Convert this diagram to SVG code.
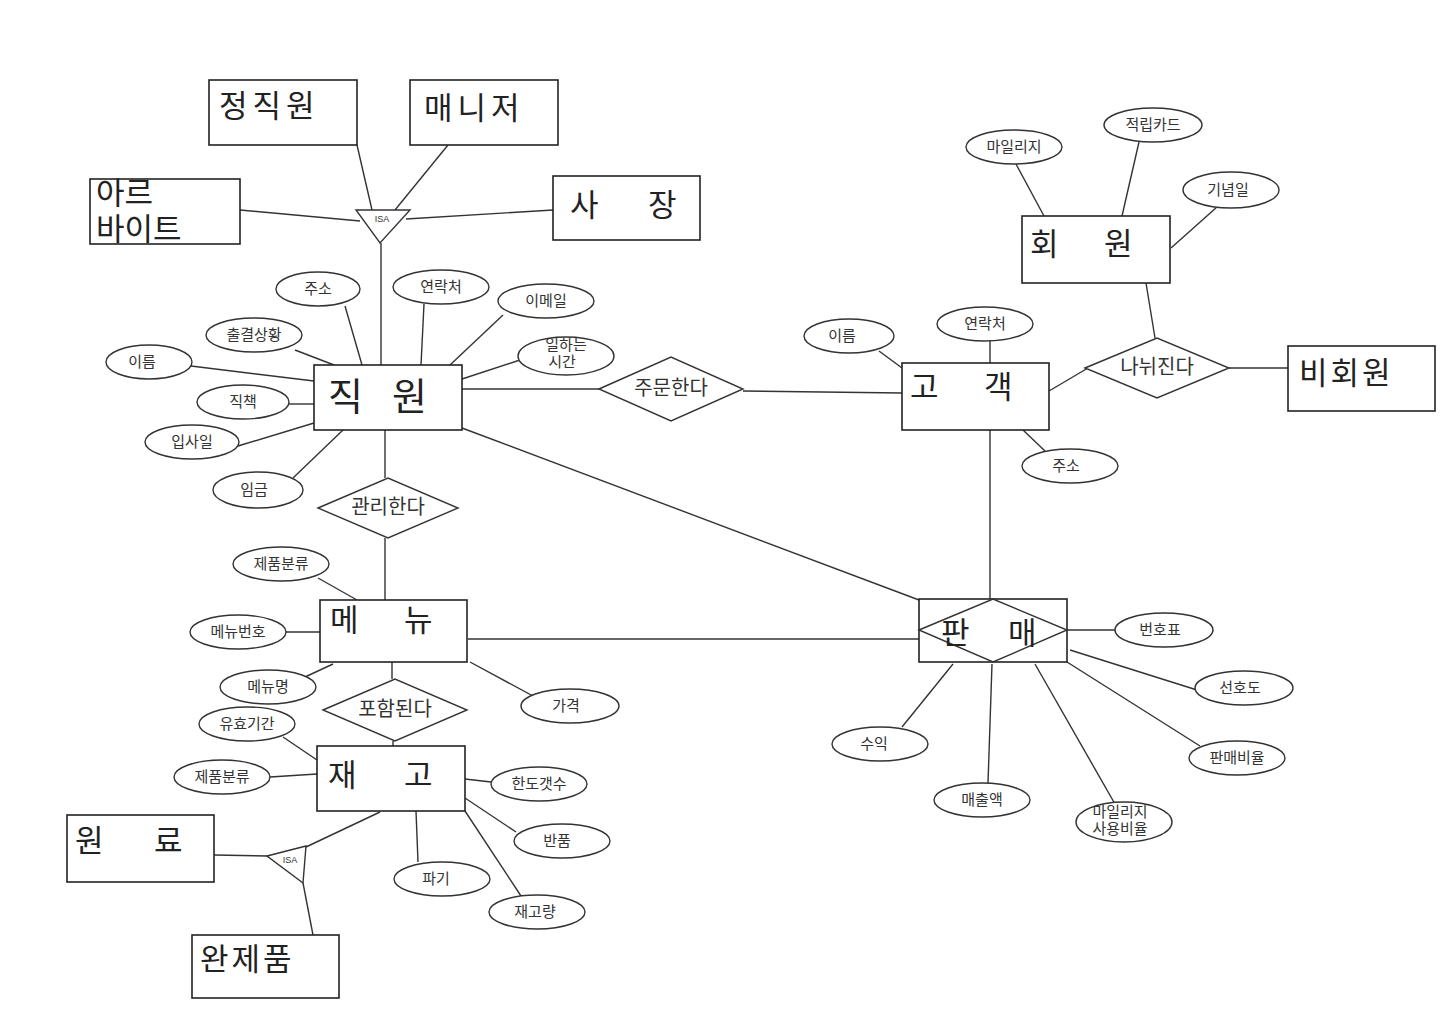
<svg xmlns="http://www.w3.org/2000/svg" width="1455" height="1024" viewBox="0 0 1455 1024">
<style>
.bg{fill:#fff}
.e{fill:#fff;stroke:#222;stroke-width:1.6}
.a{fill:#fff;stroke:#333;stroke-width:1.4}
.r{fill:#fff;stroke:#333;stroke-width:1.4}
.c line{stroke:#333;stroke-width:1.4}
.et{font-family:"Liberation Sans","Noto Sans CJK KR",sans-serif;font-size:31px;fill:#222}
.big{font-size:38px}
.at{font-family:"Liberation Sans","Noto Sans CJK KR",sans-serif;font-size:15px;fill:#333;text-anchor:middle}
.rt{font-family:"Liberation Sans","Noto Sans CJK KR",sans-serif;font-size:20px;fill:#333;text-anchor:middle}
.isa{font-family:"Liberation Sans",sans-serif;font-size:9px;fill:#333;text-anchor:middle}
</style>
<rect class="bg" width="1455" height="1024"/>
<g id="connectors" class="c">
<line x1="357" y1="145" x2="372" y2="210"/>
<line x1="448" y1="145" x2="395" y2="210"/>
<line x1="240" y1="210" x2="360" y2="221"/>
<line x1="553" y1="210" x2="406" y2="219"/>
<line x1="381" y1="243" x2="381" y2="365"/>
<line x1="362" y1="365" x2="345" y2="306"/>
<line x1="421" y1="365" x2="424" y2="304"/>
<line x1="450" y1="365" x2="503" y2="315"/>
<line x1="462" y1="379" x2="520" y2="360"/>
<line x1="334" y1="365" x2="295" y2="350"/>
<line x1="314" y1="381" x2="191" y2="366"/>
<line x1="314" y1="404" x2="289" y2="404"/>
<line x1="314" y1="423" x2="238" y2="446"/>
<line x1="343" y1="430" x2="293" y2="478"/>
<line x1="385" y1="430" x2="385" y2="478"/>
<line x1="385" y1="538" x2="385" y2="600"/>
<line x1="462" y1="389" x2="599" y2="389"/>
<line x1="743" y1="391" x2="902" y2="393"/>
<line x1="462" y1="428" x2="919" y2="600"/>
<line x1="990" y1="430" x2="990" y2="599"/>
<line x1="468" y1="639" x2="919" y2="639"/>
<line x1="902" y1="368" x2="879" y2="351"/>
<line x1="990" y1="363" x2="990" y2="341"/>
<line x1="1023" y1="430" x2="1045" y2="451"/>
<line x1="1049" y1="391" x2="1088" y2="368"/>
<line x1="1229" y1="368" x2="1288" y2="368"/>
<line x1="1155" y1="338" x2="1146" y2="283"/>
<line x1="1044" y1="216" x2="1016" y2="164"/>
<line x1="1122" y1="216" x2="1139" y2="142"/>
<line x1="1171" y1="248" x2="1217" y2="207"/>
<line x1="1067" y1="630" x2="1115" y2="630"/>
<line x1="1070" y1="650" x2="1197" y2="690"/>
<line x1="1067" y1="662" x2="1200" y2="746"/>
<line x1="1035" y1="664" x2="1115" y2="804"/>
<line x1="992" y1="664" x2="988" y2="783"/>
<line x1="953" y1="664" x2="902" y2="727"/>
<line x1="357" y1="600" x2="318" y2="578"/>
<line x1="320" y1="632" x2="286" y2="632"/>
<line x1="333" y1="664" x2="305" y2="677"/>
<line x1="470" y1="662" x2="533" y2="696"/>
<line x1="392" y1="662" x2="392" y2="679"/>
<line x1="393" y1="741" x2="393" y2="746"/>
<line x1="317" y1="760" x2="283" y2="737"/>
<line x1="317" y1="774" x2="270" y2="777"/>
<line x1="465" y1="779" x2="491" y2="782"/>
<line x1="465" y1="798" x2="516" y2="832"/>
<line x1="416" y1="811" x2="418" y2="862"/>
<line x1="465" y1="811" x2="521" y2="896"/>
<line x1="214" y1="855" x2="267" y2="856"/>
<line x1="306" y1="847" x2="380" y2="812"/>
<line x1="303" y1="883" x2="313" y2="935"/>
</g>
<g id="n-jeongjikwon"><rect class="e" x="209" y="80" width="148" height="65"/><text class="et" x="219" y="117" letter-spacing="5">정직원</text></g>
<g id="n-manager"><rect class="e" x="410" y="80" width="148" height="65"/><text class="et" x="424" y="119" letter-spacing="5">매니저</text></g>
<g id="n-parttime"><rect class="e" x="90" y="179" width="150" height="65"/><text class="et" font-size="25"><tspan x="96" y="204">아르</tspan><tspan x="96" y="240">바이트</tspan></text></g>
<g id="n-boss"><rect class="e" x="553" y="176" width="147" height="64"/><text class="et" y="216"><tspan x="570">사</tspan><tspan x="648">장</tspan></text></g>
<g id="n-isa1"><polygon class="r" points="356,210 410,210 380,243"/><text class="isa" x="382" y="222">ISA</text></g>
<g id="n-employee"><rect class="e" x="314" y="365" width="148" height="65"/><text class="et big" y="410"><tspan x="328">직</tspan><tspan x="392">원</tspan></text></g>
<g id="a-emp-addr"><ellipse class="a" cx="318" cy="289" rx="42" ry="17"/><text class="at" x="318" y="294">주소</text></g>
<g id="a-emp-contact"><ellipse class="a" cx="441" cy="287" rx="48" ry="17"/><text class="at" x="441" y="292">연락처</text></g>
<g id="a-emp-email"><ellipse class="a" cx="546" cy="301" rx="48" ry="17"/><text class="at" x="546" y="306">이메일</text></g>
<g id="a-emp-hours"><ellipse class="a" cx="566" cy="356" rx="48" ry="19"/><text class="at" font-size="11"><tspan x="566" y="350">일하는</tspan><tspan x="562" y="367">시간</tspan></text></g>
<g id="a-emp-attend"><ellipse class="a" cx="254" cy="335" rx="48" ry="17"/><text class="at" x="254" y="340">출결상황</text></g>
<g id="a-emp-name"><ellipse class="a" cx="149" cy="362" rx="43" ry="17"/><text class="at" x="142" y="367">이름</text></g>
<g id="a-emp-title"><ellipse class="a" cx="243" cy="402" rx="46" ry="17"/><text class="at" x="243" y="407">직책</text></g>
<g id="a-emp-hired"><ellipse class="a" cx="192" cy="442" rx="47" ry="17"/><text class="at" x="192" y="447">입사일</text></g>
<g id="a-emp-wage"><ellipse class="a" cx="258" cy="490" rx="45" ry="18"/><text class="at" x="254" y="495">임금</text></g>
<g id="r-manage"><polygon class="r" points="318,508 388,478 458,508 388,538"/><text class="rt" x="388" y="514">관리한다</text></g>
<g id="r-order"><polygon class="r" points="599,389 671,357 743,389 671,421"/><text class="rt" x="671" y="395">주문한다</text></g>
<g id="n-customer"><rect class="e" x="902" y="363" width="147" height="67"/><text class="et" y="398"><tspan x="910">고</tspan><tspan x="984">객</tspan></text></g>
<g id="a-cus-name"><ellipse class="a" cx="849" cy="336" rx="45" ry="17"/><text class="at" x="842" y="341">이름</text></g>
<g id="a-cus-contact"><ellipse class="a" cx="985" cy="324" rx="48" ry="17"/><text class="at" x="985" y="329">연락처</text></g>
<g id="a-cus-addr"><ellipse class="a" cx="1070" cy="466" rx="48" ry="17"/><text class="at" x="1066" y="471">주소</text></g>
<g id="r-divide"><polygon class="r" points="1085,368 1157,338 1229,368 1157,398"/><text class="rt" x="1157" y="374">나뉘진다</text></g>
<g id="n-nonmember"><rect class="e" x="1288" y="346" width="147" height="65"/><text class="et" x="1299" y="384" letter-spacing="3">비회원</text></g>
<g id="n-member"><rect class="e" x="1022" y="216" width="148" height="67"/><text class="et" y="255"><tspan x="1030">회</tspan><tspan x="1104">원</tspan></text></g>
<g id="a-mem-mileage"><ellipse class="a" cx="1014" cy="147" rx="48" ry="17"/><text class="at" x="1014" y="152">마일리지</text></g>
<g id="a-mem-card"><ellipse class="a" cx="1153" cy="125" rx="49" ry="17"/><text class="at" x="1153" y="130">적립카드</text></g>
<g id="a-mem-anniv"><ellipse class="a" cx="1231" cy="190" rx="48" ry="18"/><text class="at" x="1228" y="195">기념일</text></g>
<g id="n-sales"><rect class="e" x="919" y="599" width="148" height="63"/><polygon class="r" points="919,630 993,599 1067,630 993,662" fill="none"/><text class="et" y="644"><tspan x="941">판</tspan><tspan x="1008">매</tspan></text></g>
<g id="a-sal-num"><ellipse class="a" cx="1164" cy="630" rx="49" ry="17"/><text class="at" x="1160" y="635">번호표</text></g>
<g id="a-sal-pref"><ellipse class="a" cx="1244" cy="688" rx="49" ry="17"/><text class="at" x="1240" y="693">선호도</text></g>
<g id="a-sal-ratio"><ellipse class="a" cx="1237" cy="758" rx="48" ry="17"/><text class="at" x="1237" y="763">판매비율</text></g>
<g id="a-sal-mileage"><ellipse class="a" cx="1124" cy="822" rx="48" ry="20"/><text class="at" font-size="11"><tspan x="1120" y="817">마일리지</tspan><tspan x="1120" y="834">사용비율</tspan></text></g>
<g id="a-sal-revenue"><ellipse class="a" cx="982" cy="800" rx="48" ry="17"/><text class="at" x="982" y="805">매출액</text></g>
<g id="a-sal-profit"><ellipse class="a" cx="880" cy="744" rx="48" ry="17"/><text class="at" x="874" y="749">수익</text></g>
<g id="n-menu"><rect class="e" x="320" y="600" width="147" height="62"/><text class="et" y="631"><tspan x="330">메</tspan><tspan x="404">뉴</tspan></text></g>
<g id="a-menu-cat"><ellipse class="a" cx="281" cy="564" rx="48" ry="17"/><text class="at" x="281" y="569">제품분류</text></g>
<g id="a-menu-num"><ellipse class="a" cx="238" cy="632" rx="48" ry="17"/><text class="at" x="238" y="637">메뉴번호</text></g>
<g id="a-menu-name"><ellipse class="a" cx="268" cy="687" rx="48" ry="17"/><text class="at" x="268" y="692">메뉴명</text></g>
<g id="a-menu-price"><ellipse class="a" cx="570" cy="706" rx="49" ry="17"/><text class="at" x="566" y="711">가격</text></g>
<g id="r-include"><polygon class="r" points="323,710 395,679 467,710 395,741"/><text class="rt" x="395" y="716">포함된다</text></g>
<g id="n-stock"><rect class="e" x="317" y="746" width="148" height="65"/><text class="et" y="786"><tspan x="328">재</tspan><tspan x="404">고</tspan></text></g>
<g id="a-stk-exp"><ellipse class="a" cx="247" cy="724" rx="48" ry="17"/><text class="at" x="247" y="729">유효기간</text></g>
<g id="a-stk-cat"><ellipse class="a" cx="222" cy="777" rx="48" ry="17"/><text class="at" x="222" y="782">제품분류</text></g>
<g id="a-stk-limit"><ellipse class="a" cx="539" cy="784" rx="48" ry="17"/><text class="at" x="539" y="789">한도갯수</text></g>
<g id="a-stk-return"><ellipse class="a" cx="562" cy="841" rx="48" ry="17"/><text class="at" x="557" y="846">반품</text></g>
<g id="a-stk-discard"><ellipse class="a" cx="442" cy="879" rx="48" ry="17"/><text class="at" x="436" y="884">파기</text></g>
<g id="a-stk-qty"><ellipse class="a" cx="537" cy="912" rx="48" ry="17"/><text class="at" x="535" y="917">재고량</text></g>
<g id="n-isa2"><polygon class="r" points="267,856 306,846 303,883"/><text class="isa" x="290" y="863">ISA</text></g>
<g id="n-raw"><rect class="e" x="67" y="815" width="147" height="67"/><text class="et" y="852"><tspan x="75">원</tspan><tspan x="154">료</tspan></text></g>
<g id="n-product"><rect class="e" x="192" y="935" width="147" height="63"/><text class="et" x="200" y="970" letter-spacing="3">완제품</text></g>
</svg>
